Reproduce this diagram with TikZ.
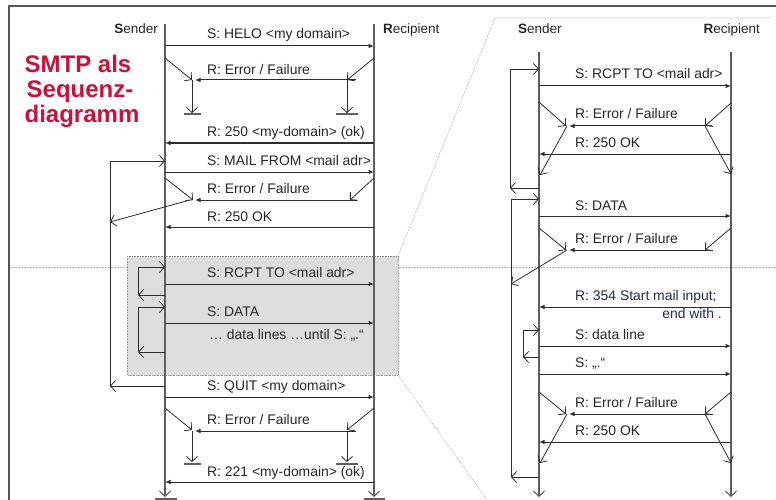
\documentclass[tikz,border=0pt]{standalone}
\usepackage{fontspec}
\setmainfont{Liberation Sans}
\usetikzlibrary{arrows.meta}

\definecolor{lifeclr}{RGB}{95,95,95}
\definecolor{msgclr}{RGB}{45,45,45}
\definecolor{titlered}{RGB}{200,18,58}
\definecolor{boxgrey}{RGB}{222,222,222}
\definecolor{navytext}{RGB}{30,42,92}
\definecolor{dotclr}{RGB}{150,150,150}

\tikzset{
  life/.style={draw=lifeclr, line width=1.1pt, -{Straight Barb[length=5pt,width=11pt]}},
  msg/.style={draw=msgclr, line width=1pt, -{Latex[length=5.5pt,width=4.5pt]}},
  branch/.style={draw=msgclr, line width=0.8pt, -{Straight Barb[length=5pt,width=11pt]}},
  groundbar/.style={draw=lifeclr, line width=1.6pt},
  lbl/.style={anchor=base west, inner sep=0pt, text=black!85,
              font=\fontsize{13.9}{16}\selectfont},
  head/.style={inner sep=0pt, text=black!85, font=\fontsize{13.5}{16}\selectfont},
  titlefont/.style={anchor=base, inner sep=0pt, text=titlered,
              font=\bfseries\fontsize{24}{26}\selectfont},
  guide/.style={draw=dotclr!70, line width=0.5pt, densely dotted},
  zoomline/.style={draw=dotclr, line width=0.6pt, densely dotted},
}

\begin{document}
\begin{tikzpicture}[x=1pt, y=-1pt]
\useasboundingbox (0,0) rectangle (776,500);
\clip (0,0) rectangle (776,500);
\fill[white] (0,0) rectangle (776,500);

% slide frame
\draw[draw=lifeclr!90!black, line width=1.5pt] (9,520) -- (9,6) -- (790,6);

% faint horizontal guide
\draw[guide] (10,267) -- (776,267);

% highlighted loop region and zoom lines towards the detail view
\draw[fill=boxgrey, draw=dotclr, line width=0.6pt, densely dotted]
  (127,256) rectangle (398,375);
\draw[zoomline] (398,256) -- (495,18) -- (770,18);
\draw[zoomline] (398,375) -- (500,518);

% title
\node[titlefont] (t1) at (78,73)  {SMTP als};
\node[titlefont] (t2) at (80,98)  {Sequenz-};
\node[titlefont] (t3) at (82,123) {diagramm};

% ---------------- overview diagram ----------------
\coordinate (sA) at (165,24);
\coordinate (rA) at (374,24);
\node[head, anchor=base east] (hsA) at (158,34) {\textbf{S}ender};
\node[head, anchor=base west] (hrA) at (383,34) {\textbf{R}ecipient};
\draw[life] (sA) -- (165,497);
\draw[life] (rA) -- (374,497);
\draw[groundbar] (155,499) -- (177,499);
\draw[groundbar] (364,499) -- (385,499);

% HELO
\node[lbl] (m1) at (207,39) {S: HELO <my domain>};
\draw[msg] (165,46) -- (374,46);
\node[lbl] (m2) at (207,75) {R: Error / Failure};
\draw[branch] (165,58) -- (192,80);
\draw[branch] (374,58) -- (347,80);
\draw[msg] (356,80) -- (195,80);
\draw[branch] (192,80) -- (192,113);
\draw[branch] (347,80) -- (347,113);
\draw[groundbar] (184,114) -- (201,114);
\draw[groundbar] (336,114) -- (358,114);
\node[lbl] (m3) at (207,137) {R: 250 <my-domain> (ok)};
\draw[msg] (374,143) -- (165,143);

% MAIL FROM with outer loop
\draw[branch] (110,387) |- (165,161);
\draw[branch] (165,386) -- (110,386);
\node[lbl] (m4) at (207,165) {S: MAIL FROM <mail adr>};
\draw[msg] (165,172) -- (374,172);
\node[lbl] (m5) at (207,193) {R: Error / Failure};
\draw[branch] (165,178) -- (193,200);
\draw[branch] (374,178) -- (350,200);
\draw[msg] (357,200) -- (195,200);
\draw[branch] (190,200) -- (110,222);
\node[lbl] (m6) at (207,221) {R: 250 OK};
\draw[msg] (374,227) -- (165,227);

% RCPT TO / DATA loops
\draw[branch] (138,295) |- (165,267);
\draw[branch] (165,295) -- (138,295);
\node[lbl] (m7) at (207,277) {S: RCPT TO <mail adr>};
\draw[msg] (165,284) -- (374,284);
\draw[branch] (138,352) |- (165,307);
\draw[branch] (165,352) -- (138,352);
\node[lbl] (m8) at (207,316) {S: DATA};
\draw[msg] (165,323) -- (374,323);
\node[lbl] (m9) at (209,339) {… data lines …until S: „.“};

% QUIT
\node[lbl] (m10) at (207,390) {S: QUIT <my domain>};
\draw[msg] (165,397) -- (374,397);
\node[lbl] (m11) at (207,424) {R: Error / Failure};
\draw[branch] (165,408) -- (192,430);
\draw[branch] (374,408) -- (347,430);
\draw[msg] (356,431) -- (195,431);
\draw[branch] (192,431) -- (192,462);
\draw[branch] (347,431) -- (347,462);
\draw[groundbar] (184,464) -- (201,464);
\draw[groundbar] (336,464) -- (358,464);
\node[lbl] (m12) at (207,476) {R: 221 <my-domain> (ok)};
\draw[msg] (374,482) -- (165,482);

% ---------------- detail diagram ----------------
\coordinate (sB) at (539,52);
\coordinate (rB) at (731,52);
\node[head, anchor=base west] (hsB) at (518,34) {\textbf{S}ender};
\node[head, anchor=base east] (hrB) at (760,34) {\textbf{R}ecipient};
\draw[life] (sB) -- (539,497);
\draw[life] (rB) -- (731,497);

% RCPT TO loop
\draw[branch] (510,188) |- (539,69);
\draw[branch] (539,188) -- (510,188);
\node[lbl] (d1) at (575,79) {S: RCPT TO <mail adr>};
\draw[msg] (539,86) -- (731,86);
\node[lbl] (d2) at (575,119) {R: Error / Failure};
\draw[branch] (539,102) -- (566,126);
\draw[branch] (731,103) -- (705,126);
\draw[msg] (712,126) -- (569,126);
\draw[branch] (567,126) -- (540,175);
\draw[branch] (705,126) -- (731,174);
\node[lbl] (d3) at (575,147) {R: 250 OK};
\draw[msg] (731,154) -- (539,154);

% DATA loop
\draw[branch] (511,477) |- (539,199);
\draw[branch] (539,477) -- (511,477);
\node[lbl] (d4) at (575,210) {S: DATA};
\draw[msg] (539,216) -- (731,216);
\node[lbl] (d5) at (575,243) {R: Error / Failure};
\draw[branch] (539,228) -- (566,250);
\draw[branch] (731,228) -- (705,250);
\draw[msg] (712,250) -- (569,250);
\draw[branch] (567,250) -- (511,284);
\node[lbl, text=navytext] (d6) at (575,300) {R: 354 Start mail input;};
\node[lbl, text=navytext, anchor=base east] (d7) at (722,318) {end with .};
\draw[msg] (731,307) -- (539,307);

% data lines loop
\draw[branch] (523,357) |- (539,330);
\draw[branch] (539,357) -- (523,357);
\node[lbl] (d8) at (575,339) {S: data line};
\draw[msg] (539,346) -- (731,346);
\node[lbl] (d9) at (575,367) {S: „.“};
\draw[msg] (539,374) -- (731,374);
\node[lbl] (d10) at (575,407) {R: Error / Failure};
\draw[branch] (539,392) -- (566,414);
\draw[branch] (731,392) -- (705,414);
\draw[msg] (712,414) -- (569,414);
\draw[branch] (567,414) -- (540,463);
\draw[branch] (705,414) -- (731,463);
\node[lbl] (d11) at (575,435) {R: 250 OK};
\draw[msg] (731,442) -- (539,442);
\end{tikzpicture}
\end{document}
